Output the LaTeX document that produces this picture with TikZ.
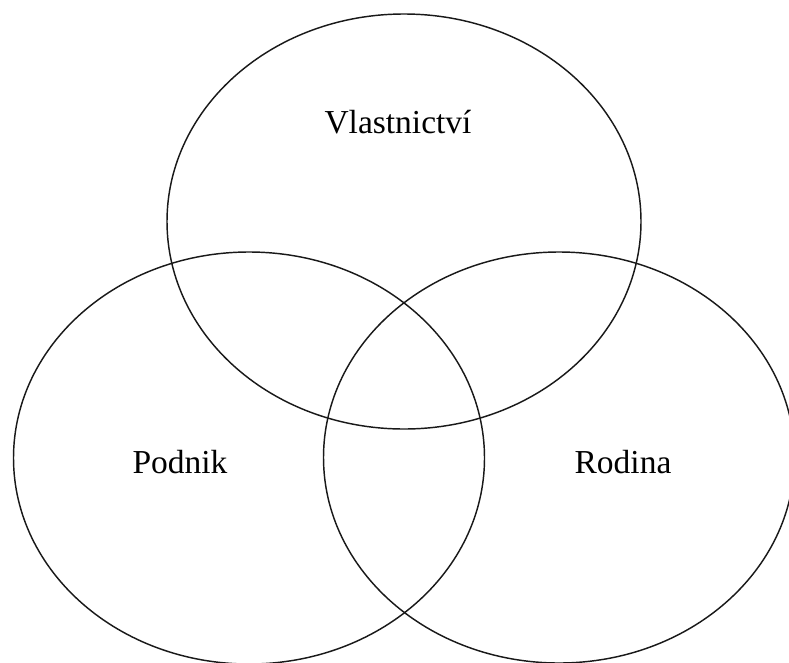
\documentclass[tikz,border=0pt]{standalone}
\usepackage{fontspec}
\setmainfont{Liberation Serif}
\begin{document}
\begin{tikzpicture}[x=1pt,y=-1pt,
  ring/.style={draw=black!90,line width=1.45pt},
  lbl/.style={inner sep=0pt,font=\fontsize{33.5}{36}\selectfont}]
\useasboundingbox (0,0) rectangle (789,662);
\begin{scope}
\clip (0,0) rectangle (789,662);
\draw[ring] (404,221.5) ellipse [x radius=237, y radius=207.5];
\draw[ring] (249,458) ellipse [x radius=235.5, y radius=206];
\draw[ring] (559,457.5) ellipse [x radius=235.5, y radius=205.5];
\end{scope}
\node[lbl] (v) at (398,122) {Vlastnictví};
\node[lbl] (p) at (180,462) {Podnik};
\node[lbl] (r) at (623,462) {Rodina};
\end{tikzpicture}
\end{document}
